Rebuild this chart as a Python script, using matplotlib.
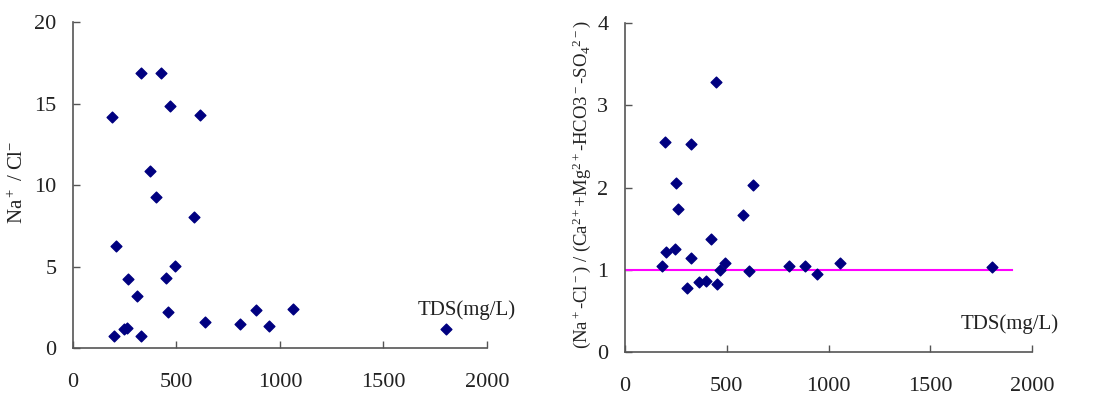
import matplotlib
matplotlib.use("Agg")
import matplotlib.pyplot as plt

# --- data ---
tds_left = [187, 198, 206, 245, 262, 265, 308, 328, 328, 373, 401, 425,
            451, 460, 471, 494, 584, 612, 636, 808, 885, 947, 1061, 1800]
na_cl = [14.17, 0.75, 6.24, 1.15, 1.2, 4.21, 3.21, 16.9, 0.75, 10.86, 9.24, 16.9,
         4.31, 2.23, 14.85, 5.01, 8.04, 14.31, 1.6, 1.49, 2.35, 1.35, 2.39, 1.17]

tds_right = [182, 195, 201, 246, 252, 262, 303, 323, 323, 365, 400, 424,
             447, 452, 468, 491, 578, 611, 627, 804, 886, 945, 1058, 1802]
exch_ratio = [1.05, 2.56, 1.21, 1.25, 2.06, 1.74, 0.77, 2.53, 1.14, 0.85, 0.86, 1.37,
              3.29, 0.82, 0.99, 1.08, 1.66, 0.98, 2.03, 1.04, 1.04, 0.95, 1.08, 1.03]

ref_line_x = [0, 1900]
ref_line_y = [1, 1]

x_ticks = [0, 500, 1000, 1500, 2000]
left_yticks = [0, 5, 10, 15, 20]
right_yticks = [0, 1, 2, 3, 4]

plt.rcParams['font.family'] = ['Liberation Serif', 'DejaVu Serif']
plt.rcParams['mathtext.fontset'] = 'custom'
plt.rcParams['mathtext.rm'] = 'Liberation Serif'
plt.rcParams['mathtext.it'] = 'Liberation Serif'

fig = plt.figure(figsize=(10.96, 3.96), dpi=100)
ax1 = fig.add_axes([0.0666, 0.1212, 0.3777, 0.823])
ax2 = fig.add_axes([0.5703, 0.1119, 0.3714, 0.829])

spine_col = '#555555'
text_col = '#222222'
tick_fs = 16
fs = 15


def style(ax, yticks):
    for s in ['top', 'right']:
        ax.spines[s].set_visible(False)
    for s in ['left', 'bottom']:
        ax.spines[s].set_color(spine_col)
        ax.spines[s].set_linewidth(1.2)
    ax.set_xlim(0, 2000)
    ax.set_ylim(yticks[0], yticks[-1])
    ax.set_xticks(x_ticks)
    ax.set_yticks(yticks)
    ax.tick_params(axis='both', direction='in', length=5, width=1,
                   color=spine_col, labelsize=tick_fs, labelcolor=text_col)
    ax.tick_params(axis='x', pad=18)
    ax.tick_params(axis='y', pad=12)


# left panel
ax1.scatter(tds_left, na_cl, marker='D', s=30, color='#000080', zorder=3,
            clip_on=False)
style(ax1, left_yticks)
ax1.set_ylabel('Na$^+$ / Cl$^{-}$', fontsize=fs, color=text_col)
ax1.yaxis.set_label_coords(-0.108, 0.51)
ax1.text(1903, 2.3, 'TDS(mg/L)', fontsize=fs, color=text_col,
         ha='center', va='center')

# right panel
ax2.plot(ref_line_x, ref_line_y, color='#FF00FF', lw=1.5, zorder=2)
ax2.scatter(tds_right, exch_ratio, marker='D', s=30, color='#000080', zorder=3,
            clip_on=False)
style(ax2, right_yticks)
ax2.set_ylabel('(Na$^+$-Cl$^-$) / (Ca$^{2+}$+Mg$^{2+}$-HCO3$^-$-SO$_4$$^{2-}$)',
               fontsize=13.5, color=text_col)
ax2.yaxis.set_label_coords(-0.079, 0.51)
ax2.text(1892, 0.33, 'TDS(mg/L)', fontsize=fs, color=text_col,
         ha='center', va='center')

fig.savefig('out.png', dpi=100)
